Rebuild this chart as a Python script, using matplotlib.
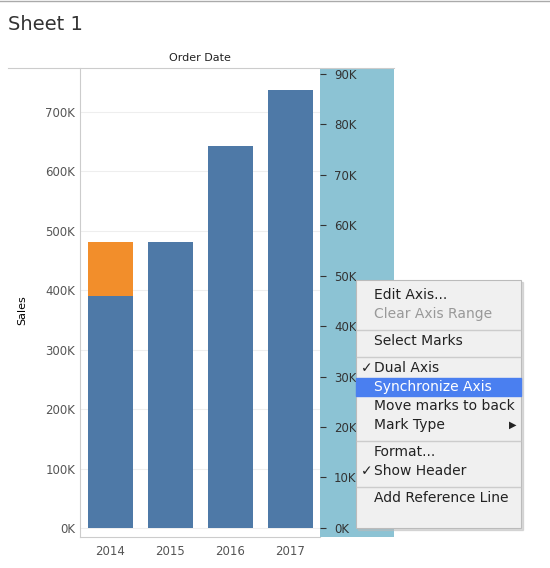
import matplotlib.pyplot as plt
from matplotlib.patches import Rectangle
from matplotlib.ticker import FuncFormatter

years = ["2014", "2015", "2016", "2017"]
sales_blue = [390000, 481000, 643000, 737000]
sales_orange = [91000, 0, 0, 0]
right_ticks = [0, 10, 20, 30, 40, 50, 60, 70, 80, 90]
menu_items = ["Edit Axis...", "Clear Axis Range", "|", "Select Marks", "|",
              "Dual Axis", "Synchronize Axis", "Move marks to back", "Mark Type", "|",
              "Format...", "Show Header", "|", "Add Reference Line"]

W, H = 550, 568
fig = plt.figure(figsize=(W / 100, H / 100), dpi=100)


def fx(px):
    return px / W


def fy(py):
    return 1 - py / H


# main axis
ax = fig.add_axes([fx(80), fy(537), fx(240), (537 - 68) / H])
x = range(len(years))
ax.bar(x, sales_blue, width=0.75, color="#4e79a7")
ax.bar(x, sales_orange, bottom=sales_blue, width=0.75, color="#f28e2b")
ax.set_xlim(-0.5, 3.5)
ax.set_ylim(-15000, 774000)
ax.set_yticks(range(0, 800000, 100000))
ax.yaxis.set_major_formatter(FuncFormatter(lambda v, p: f"{int(v / 1000)}K"))
ax.set_xticks(list(x))
ax.set_xticklabels(years)
ax.tick_params(length=0, labelsize=8.5, colors="#555555")
ax.tick_params(axis="x", pad=6)
ax.grid(axis="y", color="#eeeeee", linewidth=0.8)
ax.set_axisbelow(True)
for s in ["top", "right"]:
    ax.spines[s].set_visible(False)
ax.spines["left"].set_color("#cccccc")
ax.spines["bottom"].set_color("#cccccc")

# right (dual) axis
ax2 = fig.add_axes([fx(320), fy(537), fx(74), (537 - 68) / H])
ax2.set_facecolor("#8cc3d4")
ax2.set_xlim(0, 1)
ax2.set_ylim(-1.8, 91.2)
ax2.set_xticks([])
ax2.set_yticks(right_ticks)
ax2.yaxis.tick_left()
ax2.set_yticklabels([f"{t}K" for t in right_ticks])
ax2.tick_params(axis="y", direction="in", length=4, pad=-10, labelsize=8.5,
                colors="#333333")
for lbl in ax2.get_yticklabels():
    lbl.set_horizontalalignment("left")
for s in ax2.spines.values():
    s.set_visible(False)

# texts and lines
fig.text(fx(8), fy(25), "Sheet 1", fontsize=14, color="#333333", va="center")
fig.text(fx(200), fy(58), "Order Date", fontsize=8, ha="center", va="center", color="#222222")
fig.text(fx(22), fy(310), "Sales", fontsize=8, rotation=90, ha="center", va="center")
fig.add_artist(plt.Line2D([fx(8), fx(394)], [fy(68), fy(68)], color="#cccccc", lw=0.8))
fig.add_artist(plt.Line2D([0, 1], [fy(1), fy(1)], color="#aaaaaa", lw=1))

# context menu
mx0, my0, mx1, my1 = 356, 280, 521, 528
fig.add_artist(Rectangle((fx(mx0 + 2), fy(my1 + 2)), fx(mx1 - mx0), (my1 - my0) / H,
                         transform=fig.transFigure, color="#bbbbbb", alpha=0.5))
fig.add_artist(Rectangle((fx(mx0), fy(my1)), fx(mx1 - mx0), (my1 - my0) / H,
                         transform=fig.transFigure, facecolor="#f0f0f0", edgecolor="#bbbbbb", lw=0.8))
y = 295
for item in menu_items:
    if item == "|":
        fig.add_artist(plt.Line2D([fx(mx0 + 1), fx(mx1 - 1)], [fy(y - 3), fy(y - 3)],
                                  color="#cccccc", lw=1))
        y += 8
        continue
    color = "#222222"
    if item == "Clear Axis Range":
        color = "#999999"
    if item == "Synchronize Axis":
        fig.add_artist(Rectangle((fx(mx0), fy(y + 9)), fx(mx1 - mx0), 18 / H,
                                 transform=fig.transFigure, color="#4a7ff0"))
        color = "white"
    if item in ("Dual Axis", "Show Header"):
        fig.text(fx(361), fy(y), "\u2713", fontsize=10, va="center", color="#222222")
    if item == "Mark Type":
        fig.text(fx(509), fy(y), "\u25b6", fontsize=7, va="center", color="#222222")
    fig.text(fx(374), fy(y), item, fontsize=10, va="center", color=color)
    y += 19

fig.savefig("out.png", dpi=100)
